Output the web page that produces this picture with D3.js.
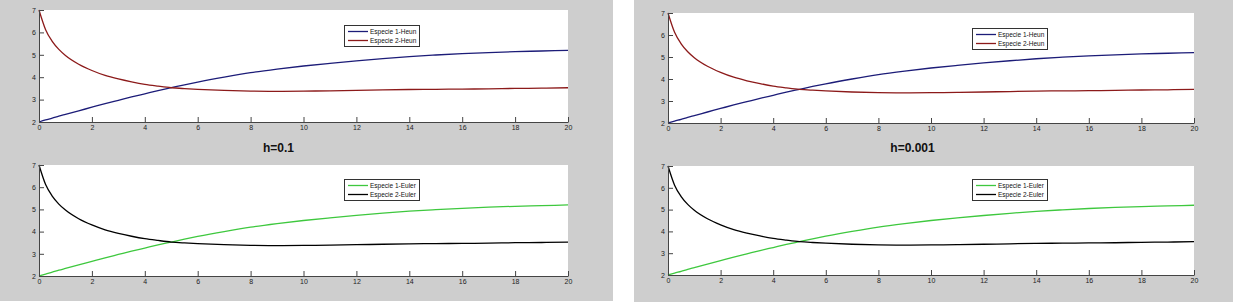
<!DOCTYPE html>
<html>
<head>
<meta charset="utf-8">
<script src="https://cdn.jsdelivr.net/npm/d3@7"></script>
<style>
  body { margin: 0; background: #fff; }
  .tick text { font-family: "Liberation Sans", Arial, sans-serif; font-size: 7px; fill: #222; }
  .legend text { font-family: "Liberation Sans", Arial, sans-serif; font-size: 6.5px; fill: #111; }
  .title { font-family: "Liberation Sans", Arial, sans-serif; font-size: 12px; font-weight: bold; fill: #111; }
</style>
</head>
<body>
<div id="chart"></div>
<script>
// values (same for both step sizes, Heun and Euler look identical)
var tValues  = [0, 0.25, 0.5, 0.75, 1, 1.5, 2, 2.5, 3, 3.5, 4, 4.5, 5, 5.5, 6, 7, 8, 9, 10, 11, 12, 13, 14, 15, 16, 17, 18, 19, 20];
var species1 = [2.0, 2.09, 2.17, 2.26, 2.34, 2.50, 2.66, 2.82, 2.97, 3.12, 3.26, 3.40, 3.53, 3.66, 3.78, 4.00, 4.20, 4.36, 4.50, 4.62, 4.73, 4.83, 4.92, 4.99, 5.05, 5.10, 5.14, 5.17, 5.20];
var species2 = [7.0, 6.12, 5.60, 5.24, 4.97, 4.58, 4.30, 4.08, 3.92, 3.79, 3.68, 3.60, 3.53, 3.49, 3.46, 3.41, 3.38, 3.37, 3.38, 3.39, 3.41, 3.43, 3.45, 3.46, 3.47, 3.48, 3.50, 3.51, 3.53];

var xTicks = [0, 2, 4, 6, 8, 10, 12, 14, 16, 18, 20];
var yTicks = [2, 3, 4, 5, 6, 7];

var stepTitles = ['h=0.1', 'h=0.001'];
var heunLabels = ['Especie 1-Heun', 'Especie 2-Heun'];
var eulerLabels = ['Especie 1-Euler', 'Especie 2-Euler'];

var width = 1233, height = 302;

const svg = d3.select('#chart')
    .append('svg')
    .attr('width', width)
    .attr('height', height);

// gray figure backgrounds
var figures = [
    {x: 0, w: 613, h: 301, titleX: 278.5,
     top: {x0: 39, x1: 568, y0: 10, y1: 122}, bottom: {x0: 39, x1: 568, y0: 165, y1: 276}},
    {x: 634, w: 599, h: 302, titleX: 912.5,
     top: {x0: 668, x1: 1194, y0: 13, y1: 123}, bottom: {x0: 668, x1: 1194, y0: 166, y1: 275}}
];

function drawPlot(box, series, labels, legendX, legendY){
    const g = svg.append('g');

    const xScale = d3.scaleLinear().domain([0, 20]).range([box.x0, box.x1]);
    const yScale = d3.scaleLinear().domain([2, 7]).range([box.y1, box.y0]);

    g.append('rect')
        .attr('x', box.x0)
        .attr('y', box.y0)
        .attr('width', box.x1 - box.x0)
        .attr('height', box.y1 - box.y0)
        .attr('fill', '#fff');

    const line = d3.line()
        .x((d, i) => xScale(tValues[i]))
        .y(d => yScale(d))
        .curve(d3.curveMonotoneX);

    series.forEach(function(s){
        g.append('path')
            .attr('d', line(s.values))
            .attr('fill', 'none')
            .attr('stroke', s.color)
            .attr('stroke-width', 1.3);
    });

    const xAxis = d3.axisBottom(xScale)
        .tickValues(xTicks)
        .tickFormat(d3.format('d'))
        .tickSizeInner(-5)
        .tickSizeOuter(0)
        .tickPadding(3);

    const yAxis = d3.axisLeft(yScale)
        .tickValues(yTicks)
        .tickFormat(d3.format('d'))
        .tickSizeInner(-5)
        .tickSizeOuter(0)
        .tickPadding(3);

    const gx = g.append('g')
        .attr('transform', `translate(0, ${box.y1})`)
        .call(xAxis);
    const gy = g.append('g')
        .attr('transform', `translate(${box.x0}, 0)`)
        .call(yAxis);

    [gx, gy].forEach(function(a){
        a.select('.domain').attr('stroke', '#444').attr('stroke-width', 1);
        a.selectAll('.tick line').attr('stroke', '#444');
        a.attr('font-family', null).attr('font-size', null);
    });

    // legend
    const lg = g.append('g').attr('class', 'legend')
        .attr('transform', `translate(${legendX}, ${legendY})`);
    lg.append('rect')
        .attr('x', 0.5).attr('y', 0.5)
        .attr('width', 75).attr('height', 21)
        .attr('fill', '#fff')
        .attr('stroke', '#333')
        .attr('stroke-width', 1);
    series.forEach(function(s, i){
        lg.append('line')
            .attr('x1', 4).attr('x2', 24)
            .attr('y1', 6.5 + i * 9).attr('y2', 6.5 + i * 9)
            .attr('stroke', s.color)
            .attr('stroke-width', 1.3);
        lg.append('text')
            .attr('x', 26)
            .attr('y', 9 + i * 9)
            .text(labels[i]);
    });
}

figures.forEach(function(f, k){
    svg.append('rect')
        .attr('x', f.x).attr('y', 0)
        .attr('width', f.w).attr('height', f.h)
        .attr('fill', '#cecece');

    drawPlot(f.top,
        [{values: species1, color: '#1c1c78'}, {values: species2, color: '#8c1a1a'}],
        heunLabels, k === 0 ? 344 : 972, k === 0 ? 25 : 28);

    drawPlot(f.bottom,
        [{values: species1, color: '#3ec83e'}, {values: species2, color: '#000'}],
        eulerLabels, k === 0 ? 344 : 972, 179);

    svg.append('text')
        .attr('class', 'title')
        .attr('x', f.titleX)
        .attr('y', 152)
        .attr('text-anchor', 'middle')
        .text(stepTitles[k]);
});
</script>
</body>
</html>
